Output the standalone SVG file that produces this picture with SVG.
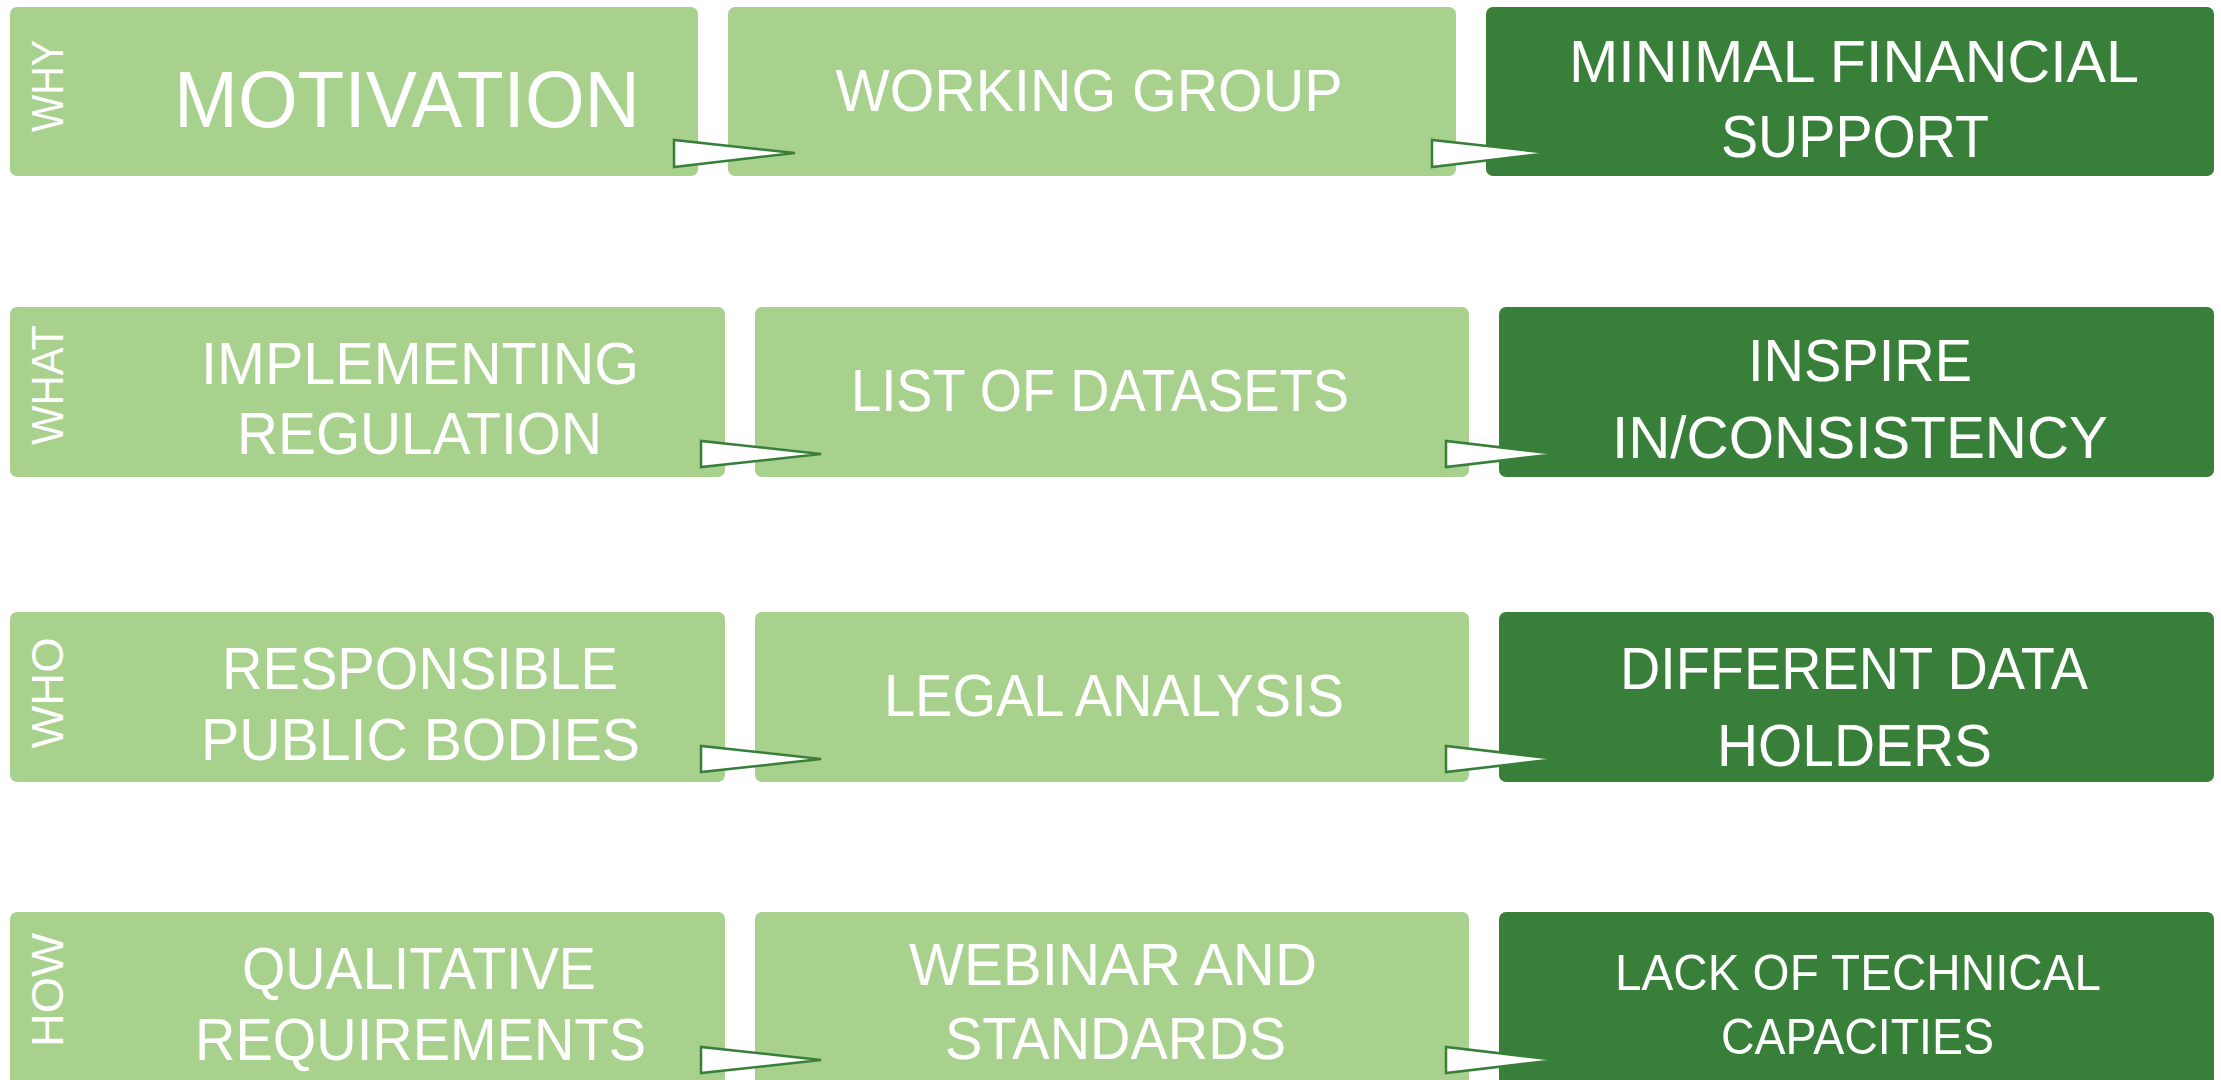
<svg xmlns="http://www.w3.org/2000/svg" width="2221" height="1080" viewBox="0 0 2221 1080">
<style>
.l{fill:#A9D18E}
.d{fill:#387F39}
.t{fill:#fff;font-family:"Liberation Sans",Arial,sans-serif;font-size:60px;text-anchor:middle}
.s{fill:#fff;font-family:"Liberation Sans",Arial,sans-serif;font-size:44px;text-anchor:middle}
.a{fill:#fff;stroke:#38803A;stroke-width:2.5;stroke-linejoin:miter}
</style>
<rect width="2221" height="1080" fill="#fff"/>
<!-- Row 1 -->
<g id="why-motivation"><rect class="l" x="10" y="7" width="688" height="169" rx="7"/>
<text class="s" transform="translate(63,86) rotate(-90)" textLength="92" lengthAdjust="spacingAndGlyphs">WHY</text>
<text class="t" style="font-size:80px" x="407" y="127" textLength="466" lengthAdjust="spacingAndGlyphs">MOTIVATION</text></g>
<g id="working-group"><rect class="l" x="728" y="7" width="728" height="169" rx="7"/>
<text class="t" x="1089" y="111" textLength="507" lengthAdjust="spacingAndGlyphs">WORKING GROUP</text></g>
<g id="minimal-financial"><rect class="d" x="1486" y="7" width="728" height="169" rx="7"/>
<text class="t" x="1854" y="82" textLength="570" lengthAdjust="spacingAndGlyphs">MINIMAL FINANCIAL</text>
<text class="t" x="1855" y="157" textLength="268" lengthAdjust="spacingAndGlyphs">SUPPORT</text></g>
<!-- Row 2 -->
<g id="what-implementing"><rect class="l" x="10" y="307" width="715" height="170" rx="7"/>
<text class="s" transform="translate(63,385) rotate(-90)" textLength="120" lengthAdjust="spacingAndGlyphs">WHAT</text>
<text class="t" x="420" y="384" textLength="438" lengthAdjust="spacingAndGlyphs">IMPLEMENTING</text>
<text class="t" x="419.5" y="454" textLength="365" lengthAdjust="spacingAndGlyphs">REGULATION</text></g>
<g id="list-datasets"><rect class="l" x="755" y="307" width="714" height="170" rx="7"/>
<text class="t" x="1100" y="411" textLength="498" lengthAdjust="spacingAndGlyphs">LIST OF DATASETS</text></g>
<g id="inspire"><rect class="d" x="1499" y="307" width="715" height="170" rx="7"/>
<text class="t" x="1860" y="381" textLength="224" lengthAdjust="spacingAndGlyphs">INSPIRE</text>
<text class="t" x="1860" y="458" textLength="496" lengthAdjust="spacingAndGlyphs">IN/CONSISTENCY</text></g>
<!-- Row 3 -->
<g id="who-responsible"><rect class="l" x="10" y="612" width="715" height="170" rx="7"/>
<text class="s" transform="translate(63,693) rotate(-90)" textLength="111" lengthAdjust="spacingAndGlyphs">WHO</text>
<text class="t" x="420" y="689" textLength="396" lengthAdjust="spacingAndGlyphs">RESPONSIBLE</text>
<text class="t" x="420.5" y="760" textLength="439" lengthAdjust="spacingAndGlyphs">PUBLIC BODIES</text></g>
<g id="legal-analysis"><rect class="l" x="755" y="612" width="714" height="170" rx="7"/>
<text class="t" x="1114" y="716" textLength="460" lengthAdjust="spacingAndGlyphs">LEGAL ANALYSIS</text></g>
<g id="different-holders"><rect class="d" x="1499" y="612" width="715" height="170" rx="7"/>
<text class="t" x="1854" y="689" textLength="468" lengthAdjust="spacingAndGlyphs">DIFFERENT DATA</text>
<text class="t" x="1854.5" y="766" textLength="275" lengthAdjust="spacingAndGlyphs">HOLDERS</text></g>
<!-- Row 4 -->
<g id="how-qualitative"><rect class="l" x="10" y="912" width="715" height="180" rx="7"/>
<text class="s" transform="translate(63,990) rotate(-90)" textLength="114" lengthAdjust="spacingAndGlyphs">HOW</text>
<text class="t" x="419" y="989" textLength="354" lengthAdjust="spacingAndGlyphs">QUALITATIVE</text>
<text class="t" x="420.5" y="1060" textLength="451" lengthAdjust="spacingAndGlyphs">REQUIREMENTS</text></g>
<g id="webinar"><rect class="l" x="755" y="912" width="714" height="180" rx="7"/>
<text class="t" x="1113" y="985" textLength="408" lengthAdjust="spacingAndGlyphs">WEBINAR AND</text>
<text class="t" x="1115.5" y="1059" textLength="341" lengthAdjust="spacingAndGlyphs">STANDARDS</text></g>
<g id="lack-technical"><rect class="d" x="1499" y="912" width="715" height="180" rx="7"/>
<text class="t" style="font-size:50px" x="1858" y="990" textLength="486" lengthAdjust="spacingAndGlyphs">LACK OF TECHNICAL</text>
<text class="t" style="font-size:50px" x="1857.5" y="1054" textLength="273" lengthAdjust="spacingAndGlyphs">CAPACITIES</text></g>
<!-- Connectors -->
<g id="connectors">
<polygon class="a" points="674,140 674,167 795,153"/>
<polygon class="a" points="1432,140 1432,167 1550,153"/>
<polygon class="a" points="701,441 701,467 821,454"/>
<polygon class="a" points="1446,441 1446,467 1557,454"/>
<polygon class="a" points="701,746 701,772 821,759"/>
<polygon class="a" points="1446,746 1446,772 1557,759"/>
<polygon class="a" points="701,1047 701,1073 821,1060"/>
<polygon class="a" points="1446,1047 1446,1073 1557,1060"/>
</g>
</svg>
